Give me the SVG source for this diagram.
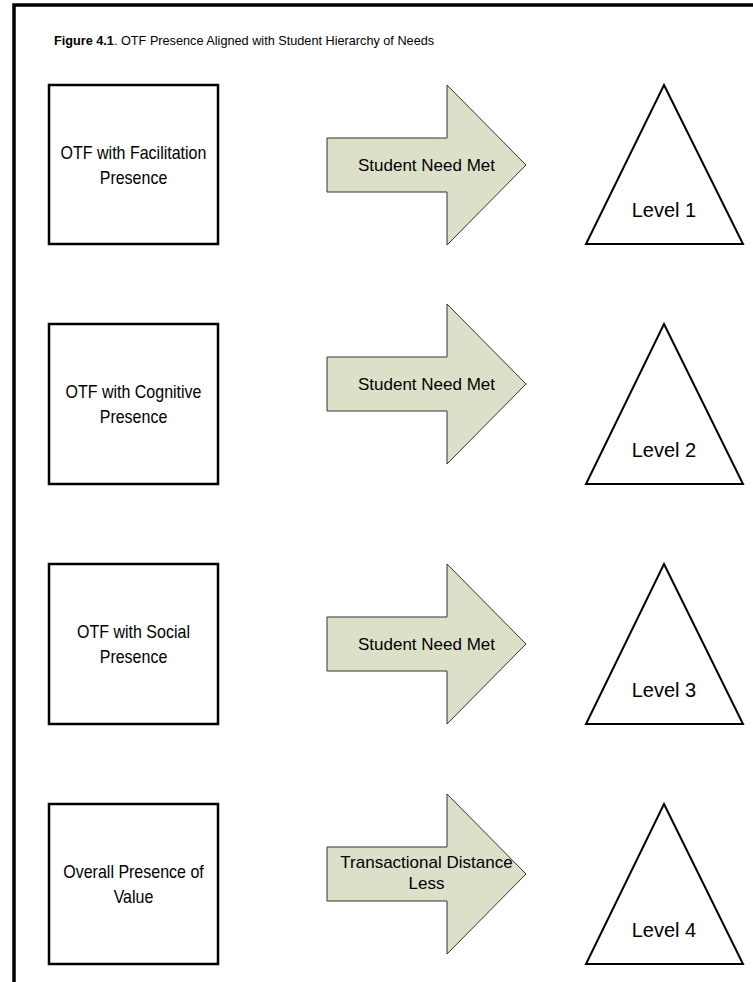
<svg xmlns="http://www.w3.org/2000/svg" width="753" height="982" viewBox="0 0 753 982">
<style>
text{font-family:"Liberation Sans",Arial,sans-serif;fill:#000}
.box{fill:#fff;stroke:#000;stroke-width:2.5}
.arr{fill:#dde0c9;stroke:#333;stroke-width:1}
.tri{fill:#fff;stroke:#000;stroke-width:2}
.bt{font-size:16px;text-anchor:middle}
.at{font-size:17px;text-anchor:middle}
.lt{font-size:20px;text-anchor:middle}
</style>
<rect x="14" y="5" width="760" height="1000" fill="#fff" stroke="#000" stroke-width="3.5"/>
<text x="54" y="45" font-size="12.7"><tspan font-weight="bold">Figure 4.1</tspan>.  OTF Presence Aligned with Student Hierarchy of Needs</text>

<g id="box1"><rect class="box" x="49" y="85" width="169" height="159"/><text class="bt" transform="translate(133.5,158.5) scale(1,1.15)">OTF with Facilitation</text><text class="bt" transform="translate(133.5,183.5) scale(1,1.15)">Presence</text></g>
<g id="box2"><rect class="box" x="49" y="324" width="169" height="160"/><text class="bt" transform="translate(133.5,398) scale(1,1.15)">OTF with Cognitive</text><text class="bt" transform="translate(133.5,423) scale(1,1.15)">Presence</text></g>
<g id="box3"><rect class="box" x="49" y="564" width="169" height="160"/><text class="bt" transform="translate(133.5,638) scale(1,1.15)">OTF with Social</text><text class="bt" transform="translate(133.5,663) scale(1,1.15)">Presence</text></g>
<g id="box4"><rect class="box" x="49" y="804" width="169" height="160"/><text class="bt" transform="translate(133.5,878) scale(1,1.15)">Overall Presence of</text><text class="bt" transform="translate(133.5,903) scale(1,1.15)">Value</text></g>

<g id="connectors">
<g id="arrow1"><path class="arr" d="M327,138 H447 V85 L526,165 L447,245 V192 H327 Z"/><text class="at" x="426.5" y="171">Student Need Met</text></g>
<g id="arrow2"><path class="arr" d="M327,357 H447 V304 L526,384 L447,464 V411 H327 Z"/><text class="at" x="426.5" y="390">Student Need Met</text></g>
<g id="arrow3"><path class="arr" d="M327,617 H447 V564 L526,644 L447,724 V671 H327 Z"/><text class="at" x="426.5" y="650">Student Need Met</text></g>
<g id="arrow4"><path class="arr" d="M327,847 H447 V794 L526,874 L447,954 V901 H327 Z"/><text class="at" x="426.5" y="868">Transactional Distance</text><text class="at" x="426.5" y="889">Less</text></g>
</g>

<g id="level1"><path class="tri" d="M664,85 L743,244 H586 Z"/><text class="lt" x="664" y="217">Level 1</text></g>
<g id="level2"><path class="tri" d="M664,324 L743,484 H586 Z"/><text class="lt" x="664" y="457">Level 2</text></g>
<g id="level3"><path class="tri" d="M664,564 L743,724 H586 Z"/><text class="lt" x="664" y="697">Level 3</text></g>
<g id="level4"><path class="tri" d="M664,804 L743,964 H586 Z"/><text class="lt" x="664" y="937">Level 4</text></g>
</svg>
